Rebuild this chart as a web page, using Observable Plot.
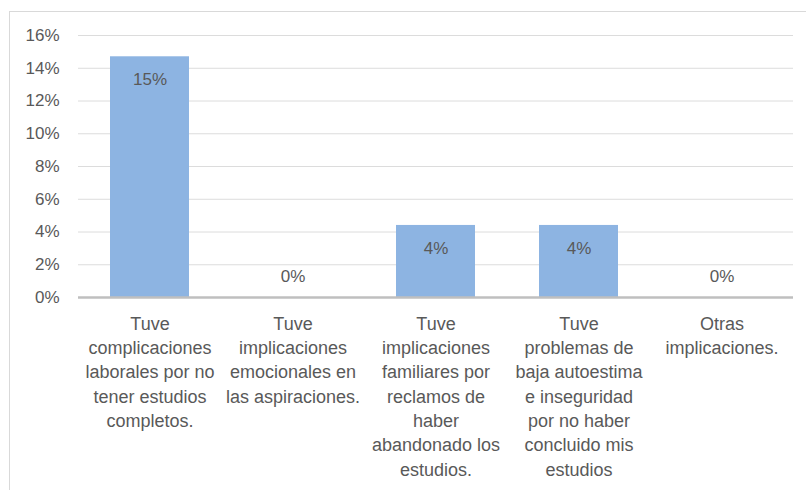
<!DOCTYPE html>
<html><head><meta charset="utf-8">
<script src="https://cdn.jsdelivr.net/npm/d3@7"></script>
<script src="https://cdn.jsdelivr.net/npm/@observablehq/plot@0.6"></script>
<style>
html,body{margin:0;padding:0;background:#fff;overflow:hidden;width:806px;height:490px;}
#frame{position:absolute;left:9px;top:11px;width:900px;height:600px;border:1.5px solid #d9d9d9;box-sizing:border-box;pointer-events:none}
#chart{position:absolute;left:0;top:0}
</style></head><body>
<div id="chart"></div><div id="frame"></div>
<script>
const categories = [
  "Tuve\ncomplicaciones\nlaborales por no\ntener estudios\ncompletos.",
  "Tuve\nimplicaciones\nemocionales en\nlas aspiraciones.",
  "Tuve\nimplicaciones\nfamiliares por\nreclamos de\nhaber\nabandonado los\nestudios.",
  "Tuve\nproblemas de\nbaja autoestima\ne inseguridad\npor no haber\nconcluido mis\nestudios",
  "Otras\nimplicaciones."
];
const values = [0.147, 0, 0.044, 0.044, 0];
const valueLabels = ["15%", "0%", "4%", "4%", "0%"];
const yTicks = [0, 0.02, 0.04, 0.06, 0.08, 0.10, 0.12, 0.14, 0.16];

const data = categories.map((c, i) => ({category: c, value: values[i], label: valueLabels[i]}));
const textColor = "#595959";

const chart = Plot.plot({
  width: 806, height: 490,
  marginLeft: 78, marginRight: 13, marginTop: 35, marginBottom: 193,
  style: {fontFamily: "'Liberation Sans', Arial, sans-serif", color: textColor, background: "transparent"},
  x: {domain: categories, paddingInner: 0.45, paddingOuter: 0.225, label: null},
  y: {domain: [0, 0.16], label: null},
  marks: [
    Plot.gridY(yTicks, {stroke: "#dcdcdc", strokeOpacity: 1, strokeWidth: 1}),
    Plot.axisY(yTicks, {tickSize: 0, tickPadding: 19, tickFormat: d => Math.round(d * 100) + "%", fontSize: 17, fill: textColor, label: null}),
    Plot.axisX({tickSize: 0, tickPadding: 15, fontSize: 18, lineHeight: 1.35, fill: textColor, label: null}),
    Plot.barY(data, {x: "category", y: "value", fill: "#8db4e2"}),
    Plot.ruleY([0], {stroke: "#bfbfbf", strokeWidth: 2.5}),
    Plot.text(data.filter(d => d.value > 0), {x: "category", y: "value", text: "label", dy: 23, fontSize: 17, fill: textColor}),
    Plot.text(data.filter(d => d.value === 0), {x: "category", y: "value", text: "label", dy: -21, fontSize: 17, fill: textColor})
  ]
});
document.getElementById("chart").appendChild(chart);
</script>
</body></html>
